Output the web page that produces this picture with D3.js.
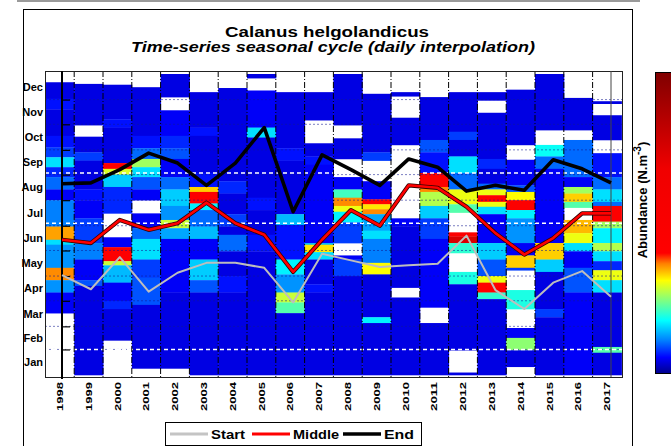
<!DOCTYPE html>
<html>
<head>
<meta charset="utf-8">
<script src="https://cdn.jsdelivr.net/npm/d3@7/dist/d3.min.js"></script>
<style>
  html, body { margin: 0; padding: 0; background: #fff; }
  svg { display: block; font-family: "Liberation Sans", Arial, sans-serif; }
</style>
</head>
<body>
<svg id="chart" width="671" height="446"></svg>
<script>
// ---- data -------------------------------------------------------------
const years = [1998, 1999, 2000, 2001, 2002, 2003, 2004, 2005, 2006, 2007,
               2008, 2009, 2010, 2011, 2012, 2013, 2014, 2015, 2016, 2017];

const monthNames = ["Jan", "Feb", "Mar", "Apr", "May", "Jun",
                    "Jul", "Aug", "Sep", "Oct", "Nov", "Dec"];
const monthStart = [0, 31, 59, 90, 120, 151, 181, 212, 243, 273, 304, 334, 365];

// day of year of the start, middle and end of the seasonal peak
const startDay  = [121, 104, 143, 101, 124, 136, 136, 130, 88, 147,
                   139, 131, 133, 135, 169, 103, 80, 112, 126, 95];
const middleDay = [164, 160, 188, 176, 184, 209, 184, 170, 125, 164,
                   200, 181, 230, 227, 204, 172, 146, 166, 196, 196];
const endDay    = [232, 233, 249, 269, 257, 230, 257, 300, 198, 267,
                   249, 230, 262, 252, 223, 230, 224, 261, 250, 233];

// daily abundance per year, as bands [fromDay, toDay, colour level]; null = no sample
const abundance = [
  [[355,365,null],[335,355,.04],[322,335,.06],[290,322,.04],[276,290,.06],[264,276,.08],[252,264,.16],[240,252,.07],[225,240,.10],[212,225,.05],[180,212,.11],[164,180,.35],[158,164,.16],[130,158,.12],[115,130,.36],[100,115,.12],[75,100,.05],[0,75,null]],
  [[353,365,null],[303,353,.04],[289,303,null],[270,289,.04],[260,270,.08],[225,260,.04],[212,225,.06],[190,212,.05],[160,190,.08],[140,160,.11],[115,140,.05],[108,115,.09],[0,108,.04]],
  [[352,365,null],[310,352,.04],[300,310,.06],[257,300,.04],[250,257,.42],[243,250,.29],[228,243,.15],[196,228,.07],[167,196,null],[155,167,.05],[138,155,.43],[133,138,.28],[112,133,.14],[90,112,.05],[80,90,.07],[42,80,.04],[0,42,null]],
  [[349,365,null],[290,349,.04],[275,290,.06],[262,275,.10],[252,262,.26],[240,252,.16],[225,240,.09],[212,225,.05],[196,212,null],[178,196,.05],[165,178,.10],[140,165,.16],[118,140,.08],[85,118,.09],[8,85,.04],[0,8,null]],
  [[337,365,.04],[321,337,null],[290,321,.05],[275,290,.07],[262,275,.09],[240,262,.05],[225,240,.10],[205,225,.15],[188,205,.12],[178,188,.28],[165,178,.13],[100,165,.05],[8,100,.04],[0,8,null]],
  [[343,365,null],[300,343,.04],[290,300,.06],[245,290,.04],[228,245,.06],[222,228,.33],[208,222,.43],[200,208,.17],[180,200,.10],[165,180,.14],[140,165,.05],[115,140,.15],[100,115,.09],[0,100,.04]],
  [[348,365,null],[235,348,.04],[220,235,.07],[195,220,.04],[180,195,.08],[170,180,.04],[150,170,.10],[120,150,.04],[100,120,.06],[0,100,.04]],
  [[360,365,.04],[345,360,null],[300,345,.05],[288,300,.16],[215,288,.04],[200,215,.06],[170,200,.04],[150,170,.06],[0,150,.04]],
  [[343,365,null],[275,343,.04],[260,275,.06],[195,260,.04],[182,195,.14],[140,182,.06],[122,140,.17],[100,122,.12],[88,100,.28],[75,88,.22],[0,75,.04]],
  [[343,365,null],[309,343,.04],[281,309,null],[265,281,.04],[255,265,.06],[160,255,.05],[158,160,.14],[149,158,.32],[140,149,.16],[110,140,.04],[100,110,.06],[0,100,.04]],
  [[303,365,.04],[287,303,null],[262,287,.04],[240,262,null],[225,240,.05],[215,225,.21],[205,215,.36],[198,205,.30],[185,198,.17],[160,185,.08],[145,160,null],[140,145,.05],[120,140,.08],[0,120,.04]],
  [[341,365,null],[270,341,.04],[260,270,.08],[235,260,null],[213,235,.05],[207,213,.40],[201,207,.32],[195,201,.36],[175,195,.13],[165,175,.16],[136,165,.11],[122,136,.31],[70,122,.04],[63,70,.17],[0,63,.04]],
  [[343,365,null],[338,343,.04],[312,338,null],[279,312,.04],[190,279,null],[180,190,.05],[106,180,.04],[94,106,null],[0,94,.04]],
  [[337,365,null],[285,337,.04],[270,285,.09],[245,270,.06],[228,245,.43],[222,228,.36],[205,222,.27],[190,205,.15],[165,190,.08],[82,165,.05],[63,82,null],[0,63,.04]],
  [[343,365,null],[295,343,.04],[285,295,.08],[265,285,.04],[245,265,.16],[225,245,.10],[207,225,.30],[197,207,.22],[173,197,null],[168,173,.45],[160,168,.75],[148,160,.20],[125,148,null],[110,125,.19],[30,110,.04],[3,30,null],[0,3,.04]],
  [[343,365,null],[333,343,.04],[318,333,null],[262,318,.04],[250,262,.07],[232,250,.04],[225,232,.10],[218,225,.30],[210,218,.42],[204,210,.30],[195,204,.16],[160,195,.05],[140,160,.15],[120,140,.09],[112,120,.30],[100,112,.40],[92,100,.20],[0,92,.04]],
  [[346,365,null],[279,346,.04],[261,279,null],[230,261,.05],[222,230,.09],[212,222,.31],[200,212,.43],[190,200,.17],[160,190,.12],[145,160,.05],[130,145,.33],[127,130,.08],[103,127,null],[80,103,.19],[57,80,null],[45,57,.05],[30,45,.25],[10,30,.04],[0,10,null]],
  [[297,365,.04],[279,297,null],[265,279,.18],[250,265,.10],[160,250,.05],[140,160,.33],[125,140,.15],[80,125,.04],[70,80,.08],[0,70,.04]],
  [[336,365,null],[297,336,.04],[285,297,null],[240,285,.10],[228,240,.05],[220,228,.26],[210,220,.33],[203,210,.22],[188,203,null],[172,188,.34],[160,172,.30],[150,160,.16],[130,150,.05],[100,130,.09],[0,100,.05]],
  [[332,365,null],[329,332,.04],[315,329,null],[285,315,.04],[269,285,null],[240,269,.06],[225,240,.10],[210,225,.16],[205,210,.10],[186,205,.43],[178,186,.26],[160,178,.17],[150,160,.27],[138,150,.16],[127,138,.07],[115,127,.30],[100,115,.16],[34,100,.04],[27,34,.22],[0,27,.04]]
];

// colour ramp of the abundance scale (level 0 = bottom of colour bar)
const rampLevels = [0, 0.053, 0.11, 0.176, 0.243, 0.309, 0.365, 0.40, 0.68, 1];
const rampColours = ["#00008c", "#0000ff", "#0080ff", "#00ffff", "#80ff80",
                     "#ffff00", "#ff8000", "#ff0000", "#f00000", "#800000"];

const seriesNames = ["Start", "Middle", "End"];

// ---- layout -----------------------------------------------------------
const svg = d3.select("#chart");
const plot = { left: 45, right: 622, top: 71, bottom: 377 };

const x = d3.scaleBand().domain(years).range([45.4, 621.4]).padding(0);
const xLine = d3.scalePoint().domain(years).range([62, 611]);
const y = d3.scaleLinear().domain([0, 365]).range([375, 74]);
const colour = d3.scaleLinear().domain(rampLevels).range(rampColours)
                 .interpolate(d3.interpolateRgb).clamp(true);

// page frame
svg.append("line").attr("x1", 17).attr("x2", 640).attr("y1", 1).attr("y2", 1)
   .attr("stroke", "#9a9a9a").attr("stroke-width", 2);
svg.append("rect").attr("x", 23.5).attr("y", 9.5).attr("width", 609).attr("height", 460)
   .attr("fill", "none").attr("stroke", "#000").attr("stroke-width", 1);

// titles
svg.append("text").attr("x", 327).attr("y", 36.5).attr("text-anchor", "middle")
   .attr("font-size", 14).attr("font-weight", "bold")
   .attr("textLength", 204).attr("lengthAdjust", "spacingAndGlyphs")
   .text("Calanus helgolandicus");
svg.append("text").attr("x", 333).attr("y", 52).attr("text-anchor", "middle")
   .attr("font-size", 14).attr("font-weight", "bold").attr("font-style", "italic")
   .attr("textLength", 404).attr("lengthAdjust", "spacingAndGlyphs")
   .text("Time-series seasonal cycle (daily interpolation)");

// heat map cells
const cells = svg.append("g");
years.forEach((yr, i) => {
  cells.selectAll(null)
    .data(abundance[i].filter(b => b[2] !== null))
    .join("rect")
    .attr("x", x(yr))
    .attr("width", x.bandwidth() + 0.5)
    .attr("y", b => y(b[1]))
    .attr("height", b => y(b[0]) - y(b[1]) + 0.3)
    .attr("fill", b => colour(b[2]));
});

// month grid
const grid = svg.append("g");
const whiteDays = [31, 184, 245];
grid.selectAll(null).data(monthStart.slice(1, 12)).join("line")
  .attr("x1", plot.left).attr("x2", plot.right)
  .attr("y1", d => y(d)).attr("y2", d => y(d))
  .attr("stroke", "#101890").attr("stroke-opacity", 0.55)
  .attr("stroke-dasharray", "2,2");
grid.selectAll(null).data(whiteDays).join("line")
  .attr("x1", plot.left).attr("x2", plot.right)
  .attr("y1", d => y(d)).attr("y2", d => y(d))
  .attr("stroke", "#fff").attr("stroke-width", 1.5)
  .attr("stroke-dasharray", "4,3");

// year separators
grid.selectAll(null).data(years.slice(1)).join("line")
  .attr("x1", d => x(d)).attr("x2", d => x(d))
  .attr("y1", plot.top).attr("y2", plot.bottom)
  .attr("stroke", "#000").attr("stroke-width", 1)
  .attr("stroke-dasharray", "6,2,1,2");

// plot box
svg.append("rect").attr("x", plot.left + 0.5).attr("y", plot.top + 0.5)
   .attr("width", plot.right - plot.left).attr("height", plot.bottom - plot.top)
   .attr("fill", "none").attr("stroke", "#222").attr("stroke-width", 1);

// inner axis lines of the phenology overlay
svg.append("g").attr("transform", "translate(62,0)")
   .call(d3.axisRight(y).tickValues(monthStart.slice(1, 12)).tickSize(8).tickFormat(""))
   .call(g => g.select(".domain").remove())
   .call(g => g.selectAll(".tick line").attr("stroke-width", 1.2));
svg.append("line").attr("x1", 62).attr("x2", 62).attr("y1", plot.top).attr("y2", plot.bottom + 2)
   .attr("stroke", "#000").attr("stroke-width", 2);
svg.append("line").attr("x1", 611).attr("x2", 611).attr("y1", plot.top).attr("y2", plot.bottom)
   .attr("stroke", "#444").attr("stroke-width", 1);

// month labels
const monthMid = monthNames.map((m, i) => (monthStart[i] + monthStart[i + 1]) / 2);
svg.append("g").attr("transform", "translate(43,0)")
   .call(d3.axisLeft(y).tickValues(monthMid).tickSize(0)
          .tickFormat((d, i) => monthNames[i]))
   .call(g => g.select(".domain").remove())
   .call(g => g.selectAll("text").attr("font-size", 11).attr("font-weight", "bold")
                .attr("font-family", "Liberation Sans, Arial, sans-serif")
                .attr("fill", "#000").attr("dx", 0).attr("x", 0));

// year labels
svg.append("g").attr("transform", `translate(0,${plot.bottom})`)
   .call(d3.axisBottom(x).tickSize(0))
   .call(g => g.select(".domain").remove())
   .call(g => g.selectAll("text")
      .attr("font-size", 9).attr("font-weight", "bold")
      .attr("font-family", "Liberation Sans, Arial, sans-serif")
      .attr("fill", "#000")
      .attr("text-anchor", "end").attr("dy", "0.35em")
      .attr("textLength", 29).attr("lengthAdjust", "spacingAndGlyphs")
      .attr("transform", "translate(0,5) rotate(-90)")
      .attr("x", 0).attr("y", 0));

// phenology lines
const lineGen = d3.line().x((d, i) => xLine(years[i])).y(d => y(d));
svg.append("path").datum(startDay).attr("d", lineGen)
   .attr("fill", "none").attr("stroke", "#bdbdbd").attr("stroke-width", 2)
   .attr("stroke-linejoin", "round");
svg.append("path").datum(middleDay).attr("d", lineGen)
   .attr("fill", "none").attr("stroke", "#300").attr("stroke-width", 4.2)
   .attr("stroke-linejoin", "round");
svg.append("path").datum(middleDay).attr("d", lineGen)
   .attr("fill", "none").attr("stroke", "#ff0000").attr("stroke-width", 2.6)
   .attr("stroke-linejoin", "round");
svg.append("path").datum(endDay).attr("d", lineGen)
   .attr("fill", "none").attr("stroke", "#000").attr("stroke-width", 3.6)
   .attr("stroke-linejoin", "round");

// colour bar
const defs = svg.append("defs");
const grad = defs.append("linearGradient").attr("id", "ramp")
  .attr("x1", 0).attr("x2", 0).attr("y1", 1).attr("y2", 0);
grad.selectAll("stop").data(rampLevels).join("stop")
  .attr("offset", d => d).attr("stop-color", (d, i) => rampColours[i]);
svg.append("rect").attr("x", 655.5).attr("y", 72.5).attr("width", 22).attr("height", 301)
   .attr("fill", "url(#ramp)").attr("stroke", "#000").attr("stroke-width", 1);

const cbLabel = svg.append("text").attr("transform", "translate(647,200) rotate(-90)")
   .attr("text-anchor", "middle").attr("font-size", 13).attr("font-weight", "bold");
cbLabel.append("tspan").text("Abundance (N.m");
cbLabel.append("tspan").attr("dy", -6).attr("font-size", 10).text("-3");
cbLabel.append("tspan").attr("dy", 6).text(")");

// legend
const legend = svg.append("g");
legend.append("rect").attr("x", 165.5).attr("y", 422.5).attr("width", 256).attr("height", 23)
   .attr("fill", "#fff").attr("stroke", "#000").attr("stroke-width", 1);
const legendItems = [
  { name: seriesNames[0], colour: "#c4c4c4", w: 3, x: 170, len: 34 },
  { name: seriesNames[1], colour: "#ff0000", w: 3, x: 252, len: 46 },
  { name: seriesNames[2], colour: "#000000", w: 3.5, x: 343, len: 30 }
];
legend.selectAll("line.key").data(legendItems).join("line").attr("class", "key")
  .attr("x1", d => d.x).attr("x2", d => d.x + 38)
  .attr("y1", 434).attr("y2", 434)
  .attr("stroke", d => d.colour).attr("stroke-width", d => d.w);
legend.selectAll("text").data(legendItems).join("text")
  .attr("x", d => d.x + 41).attr("y", 439)
  .attr("font-size", 13).attr("font-weight", "bold")
  .attr("textLength", d => d.len).attr("lengthAdjust", "spacingAndGlyphs")
  .text(d => d.name);
</script>
</body>
</html>
